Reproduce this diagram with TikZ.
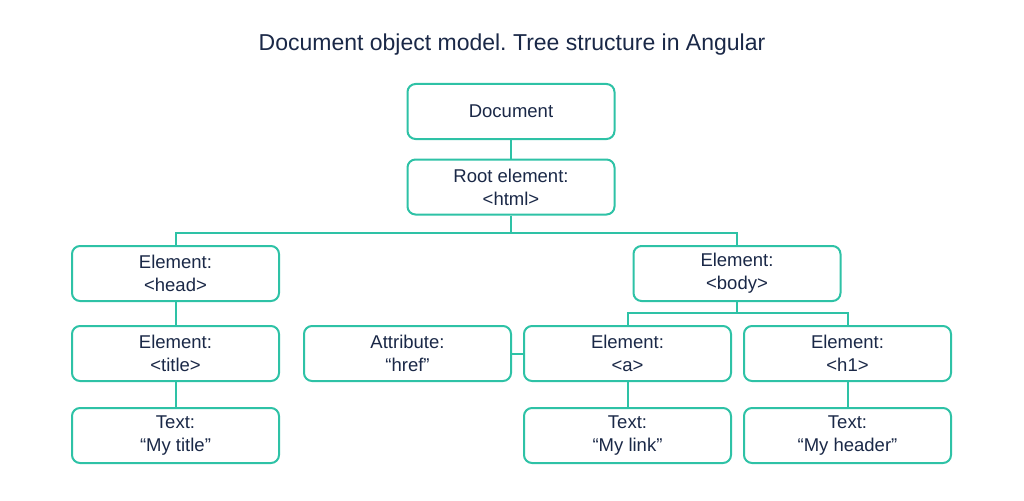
\documentclass[tikz,border=0pt]{standalone}
\usepackage{fontspec}
\setmainfont{Liberation Sans}
\definecolor{teal1}{HTML}{2EC2A6}
\definecolor{navy}{HTML}{1A2847}
\begin{document}
\frenchspacing
\begin{tikzpicture}[x=1pt,y=-1pt,
  box/.style={draw=teal1,line width=2pt,rounded corners=8pt,fill=white,
    minimum width=207pt,minimum height=55pt,inner sep=0pt,align=center,
    text=navy,font=\fontsize{18.5}{23}\selectfont},
  link/.style={draw=teal1,line width=2pt}]
\useasboundingbox (0,0) rectangle (1024,500);
\node[text=navy,font=\fontsize{23}{27}\selectfont] (title) at (512,45) {Document object model.\ Tree structure in Angular};
\node[box] (doc) at (511,111.5) {Document};
\node[box] (root) at (511,187) {Root element:\\<html>};
\node[box] (head) at (175.5,273.5) {Element:\\<head>};
\node[box] (body) at (737,273.5) {Element:\\<body>};
\node[box] (titl) at (175.5,353.5) {Element:\\<title>};
\node[box] (attr) at (407.5,353.5) {Attribute:\\“href”};
\node[box] (a) at (627.5,353.5) {Element:\\<a>};
\node[box] (h1) at (847.5,353.5) {Element:\\<h1>};
\node[box] (t1) at (175.5,435.5) {Text:\\“My title”};
\node[box] (t2) at (627.5,435.5) {Text:\\“My link”};
\node[box] (t3) at (847.5,435.5) {Text:\\“My header”};
\coordinate (j1) at (511,233);
\coordinate (j2) at (737,313);
\draw[link] (doc) -- (root);
\draw[link] (root) -- (j1);
\draw[link] (j1) -| (head);
\draw[link] (j1) -| (body);
\draw[link] (body) -- (j2);
\draw[link] (j2) -| (a);
\draw[link] (j2) -| (h1);
\draw[link] (head) -- (titl);
\draw[link] (titl) -- (t1);
\draw[link] (attr) -- (a);
\draw[link] (a) -- (t2);
\draw[link] (h1) -- (t3);
\end{tikzpicture}
\end{document}
